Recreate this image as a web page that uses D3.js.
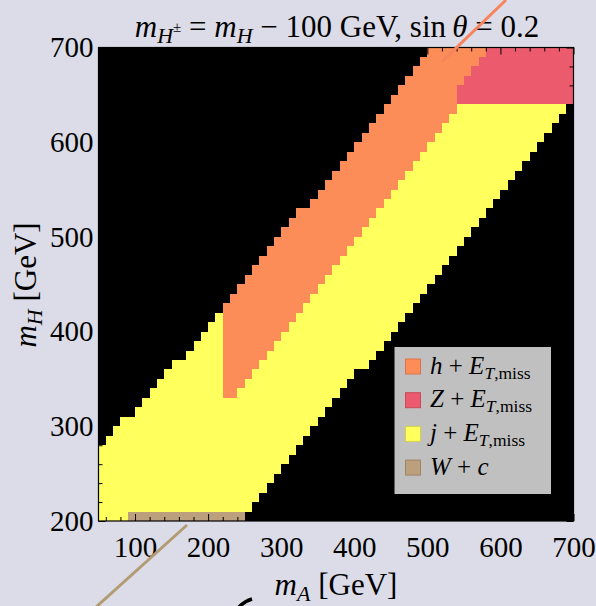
<!DOCTYPE html>
<html>
<head>
<meta charset="utf-8">
<script src="https://cdn.jsdelivr.net/npm/d3@7/dist/d3.min.js"></script>
<style>
  html, body { margin: 0; padding: 0; background: #dcdce8; }
  svg { display: block; }
  text { font-family: "Liberation Serif", "Times New Roman", serif; fill: #000; }
</style>
</head>
<body>
<svg id="chart" width="596" height="606"></svg>
<script>
// Grid: 10 GeV bins in m_A (columns) and m_H (rows).
const binWidth = 10;

// Signal regions. Each band lists, per m_A column (starting at bandStart),
// the lower and upper m_H edge of the region in that column.
const yellowStart = 50;   // j + E_T,miss
const yellowLow  = [200,200,200,200,210,210,210,210,210,210,210,210,210,210,210,210,210,210,210,210,
                    210,220,230,240,250,260,270,280,290,300,310,320,330,340,350,360,360,370,380,390,
                    400,410,420,430,440,450,460,470,480,490,500,510,520,530,540,550,560,570,580,590,
                    600,610,620,630];
const yellowHigh = [280,290,300,310,310,320,330,340,350,360,370,370,380,390,400,410,420,330,330,340,
                    350,360,370,380,390,400,410,420,430,440,450,460,470,480,490,500,510,520,530,540,
                    550,560,570,580,590,600,610,620,630,640,640,640,640,640,640,640,640,640,640,640,
                    640,640,640,640];

const orangeStart = 220;  // h + E_T,miss
const orangeLow  = [330,330,340,350,360,370,380,390,400,410,420,430,440,450,460,470,480,490,500,510,
                    520,530,540,550,560,570,580,590,600,610,620,630,660,670,680,690];
const orangeHigh = [430,440,450,460,470,480,490,500,510,520,530,530,540,550,560,570,580,590,600,610,
                    620,630,640,650,660,670,680,690,700,700,700,700,700,700,700,700];

const redStart = 540;     // Z + E_T,miss
const redLow  = [640,640,640,640,640,640,640,640,640,640,640,640,640,640,640,640];
const redHigh = [660,670,680,690,700,700,700,700,700,700,700,700,700,700,700,700];

const brownStart = 90;    // W + c
const brownLow  = [200,200,200,200,200,200,200,200,200,200,200,200,200,200,200,200];
const brownHigh = [210,210,210,210,210,210,210,210,210,210,210,210,210,210,210,210];

// Axis ticks
const xMajor = [100, 200, 300, 400, 500, 600, 700];
const yMajor = [200, 300, 400, 500, 600, 700];
const xMinor = [60, 80, 120, 140, 160, 180, 220, 240, 260, 280, 320, 340, 360, 380, 420, 440, 460, 480,
                520, 540, 560, 580, 620, 640, 660, 680];
const yMinor = [220, 240, 260, 280, 320, 340, 360, 380, 420, 440, 460, 480, 520, 540, 560, 580, 620, 640, 660, 680];

const legendItems = [
  { key: "h", color: "#fd8d58", edge: "#d9744a", kind: "met" },
  { key: "Z", color: "#eb5b6d", edge: "#c94a5a", kind: "met" },
  { key: "j", color: "#ffff5e", edge: "#d4d24a", kind: "met" },
  { key: "W", color: "#bc9f7d", edge: "#9e8466", kind: "wc" }
];

const W = 596, H = 606;
const x = d3.scaleLinear().domain([50, 700]).range([98.5, 573.5]);
const y = d3.scaleLinear().domain([200, 700]).range([521, 47.5]);

const svg = d3.select("#chart");
svg.append("rect").attr("width", W).attr("height", H).attr("fill", "#dcdce8");

// plot background
svg.append("rect")
  .attr("x", x(50)).attr("y", y(700))
  .attr("width", x(700) - x(50)).attr("height", y(200) - y(700))
  .attr("fill", "#000");

function bandPath(start, lows, highs) {
  const p = d3.path();
  lows.forEach((lo, i) => {
    const hi = highs[i];
    if (lo == null || hi == null || hi <= lo) return;
    const a = start + i * binWidth;
    p.rect(x(a), y(hi), x(a + binWidth) - x(a), y(lo) - y(hi));
  });
  return p.toString();
}

const regions = svg.append("g").attr("shape-rendering", "crispEdges");
regions.append("path").attr("d", bandPath(yellowStart, yellowLow, yellowHigh)).attr("fill", legendItems[2].color);
regions.append("path").attr("d", bandPath(orangeStart, orangeLow, orangeHigh)).attr("fill", legendItems[0].color);
regions.append("path").attr("d", bandPath(redStart, redLow, redHigh)).attr("fill", legendItems[1].color);
regions.append("path").attr("d", bandPath(brownStart, brownLow, brownHigh)).attr("fill", legendItems[3].color);

// frame ticks (inward) on all four sides
function styleAxis(g) {
  g.select(".domain").remove();
  g.attr("font-family", null).attr("font-size", null);
  g.selectAll(".tick line").attr("stroke", "#000").attr("stroke-width", 1);
}
const bottomY = y(200), topY = y(700), leftX = x(50), rightX = x(700);

svg.append("g").attr("transform", `translate(0,${bottomY})`)
  .call(d3.axisBottom(x).tickValues(xMinor).tickSize(-4).tickFormat("")).call(styleAxis);
svg.append("g").attr("transform", `translate(0,${topY})`)
  .call(d3.axisTop(x).tickValues(xMinor).tickSize(-4).tickFormat("")).call(styleAxis);
svg.append("g").attr("transform", `translate(${leftX},0)`)
  .call(d3.axisLeft(y).tickValues(yMinor).tickSize(-4).tickFormat("")).call(styleAxis);
svg.append("g").attr("transform", `translate(${rightX},0)`)
  .call(d3.axisRight(y).tickValues(yMinor).tickSize(-4).tickFormat("")).call(styleAxis);

const gx = svg.append("g").attr("transform", `translate(0,${bottomY})`)
  .call(d3.axisBottom(x).tickValues(xMajor).tickSize(-7).tickPadding(15).tickFormat(d3.format("d")))
  .call(styleAxis);
svg.append("g").attr("transform", `translate(0,${topY})`)
  .call(d3.axisTop(x).tickValues(xMajor).tickSize(-7).tickFormat("")).call(styleAxis);
const gy = svg.append("g").attr("transform", `translate(${leftX},0)`)
  .call(d3.axisLeft(y).tickValues(yMajor).tickSize(-7).tickPadding(5).tickFormat(d3.format("d")))
  .call(styleAxis);
svg.append("g").attr("transform", `translate(${rightX},0)`)
  .call(d3.axisRight(y).tickValues(yMajor).tickSize(-7).tickFormat("")).call(styleAxis);

gx.selectAll(".tick text").attr("font-size", 29).attr("fill", "#000");
gy.selectAll(".tick text").attr("font-size", 29).attr("fill", "#000");

// frame
svg.append("rect")
  .attr("x", leftX).attr("y", topY)
  .attr("width", rightX - leftX).attr("height", bottomY - topY)
  .attr("fill", "none").attr("stroke", "#000").attr("stroke-width", 1.2);

// helper for text runs: [text, italic, size, dy]
function runs(sel, parts) {
  parts.forEach(([t, it, size, dy]) => {
    const s = sel.append("tspan").text(t);
    if (it) s.attr("font-style", "italic");
    if (size) s.attr("font-size", size);
    if (dy) s.attr("dy", dy);
  });
}

// title
const title = svg.append("text").attr("x", 337).attr("y", 37)
  .attr("text-anchor", "middle").attr("font-size", 31);
runs(title, [
  ["m", true], ["H", true, 22, 6], ["\u00b1", false, 15, -11], [" = ", false, 31, 5],
  ["m", true], ["H", true, 22, 6], [" \u2212 100 GeV, sin", false, 31, -6],
  ["\u2009\u03b8", true], [" = 0.2", false]
]);

// axis labels
const xl = svg.append("text").attr("x", 336).attr("y", 595)
  .attr("text-anchor", "middle").attr("font-size", 31);
runs(xl, [["m", true], ["A", true, 22, 6], [" [GeV]", false, 31, -6]]);

const yl = svg.append("text").attr("transform", "translate(36,285) rotate(-90)")
  .attr("text-anchor", "middle").attr("font-size", 31);
runs(yl, [["m", true], ["H", true, 22, 6], [" [GeV]", false, 31, -6]]);

// legend
const lg = svg.append("g");
lg.append("rect").attr("x", 394.5).attr("y", 347).attr("width", 156.5).attr("height", 147)
  .attr("fill", "#c0c0c0");
legendItems.forEach((d, i) => {
  const yy = 359 + i * 33.7;
  lg.append("rect").attr("x", 405.5).attr("y", yy).attr("width", 15).attr("height", 15)
    .attr("fill", d.color).attr("stroke", d.edge).attr("stroke-width", 1);
  const t = lg.append("text").attr("x", 430).attr("y", yy + 14.5).attr("font-size", 25);
  if (d.kind === "met") {
    runs(t, [[d.key, true], [" + ", false], ["E", true], ["T", true, 17.5, 5], [",miss", false, 17.5]]);
  } else {
    runs(t, [["W", true], [" + ", false], ["c", true]]);
  }
});

// connector strokes leading out of the panel
svg.append("line").attr("x1", x(520)).attr("y1", y(685)).attr("x2", 506).attr("y2", 0)
  .attr("stroke", "#f8845e").attr("stroke-width", 3);
svg.append("line").attr("x1", 187).attr("y1", 525).attr("x2", 95).attr("y2", 608)
  .attr("stroke", "#b39c74").attr("stroke-width", 3);
svg.append("path").attr("d", "M252,599 Q245,601 239,607")
  .attr("fill", "none").attr("stroke", "#000").attr("stroke-width", 3.5);
</script>
</body>
</html>
